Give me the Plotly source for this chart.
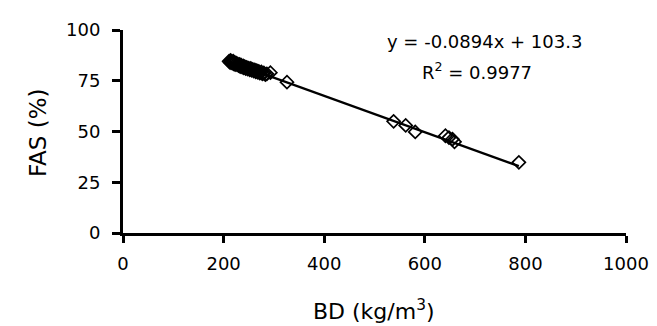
import plotly.graph_objects as go

# Data
bd = [211, 213, 214, 216, 217, 219, 220, 222, 223, 225, 227, 228, 230, 232, 233, 235,
      237, 239, 240, 242, 244, 246, 248, 250, 252, 254, 256, 258, 260, 262, 264, 266,
      268, 270, 272, 275, 277, 280, 283, 286, 293, 326,
      538, 562, 581, 641, 648, 655, 659, 787]
fas = [84.6, 84.0, 85.0, 84.3, 83.7, 84.6, 83.4, 84.0, 83.0, 83.6, 82.8, 83.3, 82.5, 83.0, 82.0, 82.6,
       81.8, 82.3, 81.4, 81.9, 81.0, 81.6, 80.8, 81.2, 80.4, 81.0, 80.1, 80.6, 79.8, 80.3, 79.4, 80.0,
       79.2, 79.6, 78.8, 79.3, 78.4, 78.8, 78.0, 78.4, 79.0, 74.3,
       55.0, 53.0, 49.8, 47.9, 47.0, 46.2, 44.9, 34.8]

slope = -0.0894
intercept = 103.3
r2 = 0.9977

x_ticks = [0, 200, 400, 600, 800, 1000]
y_ticks = [0, 25, 50, 75, 100]

fit_x = [min(bd), max(bd)]
fit_y = [slope * v + intercept for v in fit_x]

FONT = "DejaVu Sans, Arial, sans-serif"

W, H = 657, 326
ml, mr, mt, mb = 115, 39, 22, 101
pw, ph = W - ml - mr, H - mt - mb


def px_to_paper(px, py):
    return (px - ml) / pw, 1 - (py - mt) / ph


fig = go.Figure()
fig.add_trace(go.Scatter(
    x=fit_x, y=fit_y, mode="lines",
    line=dict(color="black", width=2.4), showlegend=False, hoverinfo="skip"))
fig.add_trace(go.Scatter(
    x=bd, y=fas, mode="markers",
    marker=dict(symbol="diamond-open", size=10, color="black",
                line=dict(color="black", width=1.7)),
    showlegend=False))

texts = [
    (f"y = {slope}x + {intercept}", 476, 33, 18, 0),
    (f"R<sup>2</sup> = {r2}", 469, 63, 18, 0),
    ("BD (kg/m<sup>3</sup>)", 366, 302, 22, 0),
    ("FAS (%)", 30, 125, 23, -90),
]
for t, px, py, size, ang in texts:
    ax, ay = px_to_paper(px, py)
    fig.add_annotation(
        x=ax, y=ay, xref="paper", yref="paper", showarrow=False, text=t,
        textangle=ang, xanchor="center", yanchor="middle",
        font=dict(family=FONT, size=size, color="black"))

fig.update_layout(
    width=W, height=H, autosize=False,
    margin=dict(l=ml, r=mr, t=mt, b=mb),
    paper_bgcolor="white", plot_bgcolor="white",
    font=dict(family=FONT, color="black"),
    xaxis=dict(
        range=[0, 1000], tickvals=x_ticks, ticktext=[str(v) for v in x_ticks],
        showgrid=False, zeroline=False, showline=True, linecolor="black", linewidth=3,
        ticks="outside", ticklen=7, tickwidth=3, tickcolor="black",
        ticklabelstandoff=5,
        tickfont=dict(size=18, family=FONT)),
    yaxis=dict(
        range=[0, 100], tickvals=y_ticks, ticktext=[str(v) for v in y_ticks],
        showgrid=False, zeroline=False, showline=True, linecolor="black", linewidth=3,
        ticks="outside", ticklen=8, tickwidth=3, tickcolor="black",
        ticklabelstandoff=8,
        tickfont=dict(size=18, family=FONT)),
)

fig.write_html("out.html")
